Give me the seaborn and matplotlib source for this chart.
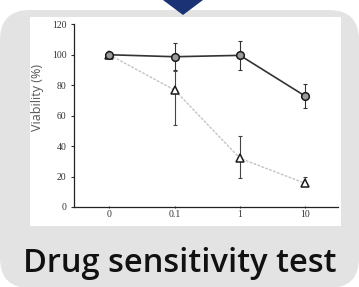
import matplotlib
matplotlib.use("Agg")
import matplotlib.pyplot as plt
from matplotlib.patches import FancyBboxPatch, Polygon, Rectangle
from matplotlib.transforms import IdentityTransform
import pandas as pd
import seaborn as sns

# concentrations and viability readings
doses = ["0", "0.1", "1", "10"]
circle_mean = [100, 98.7, 99.6, 72.8]
circle_err_low = [1.0, 8.7, 9.6, 8.1]
circle_err_high = [1.0, 9.3, 9.4, 7.7]
triangle_mean = [100, 76.8, 32.0, 15.5]
triangle_err_low = [1.0, 23.1, 12.7, 1.0]
triangle_err_high = [1.0, 12.7, 14.7, 4.2]
title = "Drug sensitivity test"

sns.set_theme(style="ticks")
plt.rcParams['font.family'] = ['Open Sans', 'DejaVu Sans']

W, H = 359, 287
fig = plt.figure(figsize=(W / 100, H / 100), dpi=100)
px = IdentityTransform()  # pixel coords, origin bottom-left

# background card, white panel and the arrow on top
fig.patches.append(FancyBboxPatch((0, -1), W, 278, boxstyle="round,pad=0,rounding_size=30",
                                  transform=px, facecolor="#e3e3e3", edgecolor="none", zorder=0))
fig.patches.append(Rectangle((30, 61), 311, 209, transform=px, facecolor="white",
                             edgecolor="none", zorder=0.5))
fig.patches.append(Polygon([(163, H), (203, H), (183, 272)], closed=True, transform=px,
                           facecolor="#1b3374", edgecolor="none", zorder=1))

ax = fig.add_axes([74 / W, 80 / H, 264 / W, 182.7 / H])
ax.set_facecolor("none")
ax.set_zorder(3)

df = pd.DataFrame({"pos": range(len(doses)), "circle": circle_mean,
                   "triangle": triangle_mean})

ax.errorbar(df["pos"], df["triangle"], yerr=[triangle_err_low, triangle_err_high],
            fmt="none", ecolor="#444444", elinewidth=0.8, capsize=1.6, capthick=0.8, zorder=2)
ax.errorbar(df["pos"], df["circle"], yerr=[circle_err_low, circle_err_high],
            fmt="none", ecolor="#333333", elinewidth=0.8, capsize=1.6, capthick=0.8, zorder=2)

sns.lineplot(data=df, x="pos", y="triangle", ax=ax, color="#c4c4c4", lw=1.0,
             linestyle=(0, (2, 1)), marker="^", markersize=6,
             markerfacecolor="white", markeredgecolor="#1a1a1a", markeredgewidth=1.1, zorder=3)
sns.lineplot(data=df, x="pos", y="circle", ax=ax, color="#333333", lw=1.2,
             marker="o", markersize=5.5, markerfacecolor="#9a9a9a",
             markeredgecolor="#1a1a1a", markeredgewidth=1.1, zorder=4)

ax.set_xlim(-0.54, 3.5)
ax.set_ylim(0, 120)
ax.set_yticks(range(0, 121, 20))
ax.set_xticks(range(len(doses)))
ax.set_xticklabels(doses)
ax.set_xlabel("")
ax.set_ylabel("Viability (%)", fontsize=9, color="#555555", labelpad=4)
ax.yaxis.set_label_coords(-0.115, 0.6)
for lab in ax.get_xticklabels() + ax.get_yticklabels():
    lab.set_family("Liberation Serif")
ax.tick_params(axis="y", labelsize=7, colors="#333333", length=2.5, width=0.8, pad=3)
ax.tick_params(axis="x", labelsize=7, colors="#333333", length=1.5, width=0.8,
               direction="inout", pad=1.5)
for s in ["left", "bottom"]:
    ax.spines[s].set_color("#222222")
    ax.spines[s].set_linewidth(0.9)
sns.despine(ax=ax)

fig.text(0.5, 1 - 272 / H, title, ha="center", va="baseline", fontsize=23.5,
         fontweight="semibold", color="#111111")

fig.savefig("out.png", dpi=100)
